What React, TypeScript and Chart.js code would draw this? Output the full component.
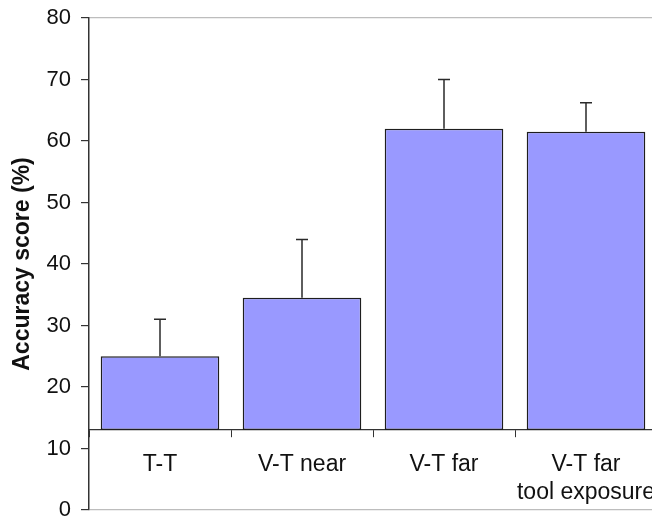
import React, { useEffect, useRef } from "react";
import { Chart, registerables } from "chart.js";

Chart.register(...registerables);

const categories: (string | string[])[] = ["T-T", "V-T near", "V-T far", ["V-T far", "tool exposure"]];
const accuracy = [25, 34.5, 62, 61.5];
const errorUpper = [31, 44, 70, 66.2];
const axisBase = 13;
const yTicks = [0, 10, 20, 30, 40, 50, 60, 70, 80];

const errorBarPlugin = {
  id: "errorBars",
  afterDatasetsDraw(chart: any) {
    const ctx = chart.ctx;
    const meta = chart.getDatasetMeta(0);
    const y = chart.scales.y;
    ctx.save();
    ctx.strokeStyle = "#2a2a2a";
    ctx.lineWidth = 1.5;
    meta.data.forEach((bar: any, i: number) => {
      const x = bar.x;
      const yTop = y.getPixelForValue(errorUpper[i]);
      const yVal = y.getPixelForValue(accuracy[i]);
      ctx.beginPath();
      ctx.moveTo(x, yVal);
      ctx.lineTo(x, yTop);
      ctx.moveTo(x - 6, yTop);
      ctx.lineTo(x + 6, yTop);
      ctx.stroke();
    });
    ctx.restore();
  },
};

export default function App() {
  const ref = useRef<HTMLCanvasElement | null>(null);
  useEffect(() => {
    if (!ref.current) return;
    const chart = new Chart(ref.current, {
      type: "bar",
      data: {
        labels: categories,
        datasets: [
          {
            data: accuracy,
            base: axisBase,
            backgroundColor: "#9999ff",
            borderColor: "#1e1e1e",
            borderWidth: 1.5,
            borderSkipped: false,
            categoryPercentage: 1,
            barPercentage: 0.835,
          } as any,
        ],
      },
      options: {
        animation: false,
        responsive: true,
        maintainAspectRatio: false,
        layout: { padding: { left: 0, right: 0, top: 18, bottom: 10 } },
        plugins: { legend: { display: false }, tooltip: { enabled: false } },
        scales: {
          x: {
            position: { y: axisBase } as any,
            offset: true,
            afterFit: (scale: any) => {
              scale.paddingLeft = 0;
              scale.paddingRight = 0;
              scale.paddingTop = 0;
              scale.paddingBottom = 0;
            },
            grid: {
              offset: true,
              drawOnChartArea: false,
              tickLength: 7,
              color: "#333333",
              tickColor: "#333333",
            },
            border: { color: "#333333", width: 1.2 },
            ticks: {
              color: "#111111",
              font: { family: "'Liberation Sans', Arial, sans-serif", size: 23, lineHeight: 1.2 },
              padding: 14,
              maxRotation: 0,
              autoSkip: false,
            },
          },
          y: {
            min: 0,
            max: 80,
            afterBuildTicks: (scale: any) => {
              scale.ticks = yTicks.map((v) => ({ value: v }));
            },
            afterFit: (scale: any) => {
              scale.width = 89;
              scale.paddingTop = 0;
              scale.paddingBottom = 0;
            },
            grid: {
              color: (c: any) =>
                c.tick && (c.tick.value === 0 || c.tick.value === 80) ? "#bdbdbd" : "rgba(0,0,0,0)",
              tickColor: "#333333",
              tickLength: 8,
              lineWidth: 1.2,
            },
            border: { color: "#333333", width: 1.5 },
            ticks: {
              color: "#111111",
              font: { family: "'Liberation Sans', Arial, sans-serif", size: 22 },
              padding: 10,
            },
            title: {
              display: true,
              text: "Accuracy score (%)",
              color: "#111111",
              font: { family: "'Liberation Sans', Arial, sans-serif", size: 23, weight: "bold" },
              padding: { top: 9, bottom: 0 },
            },
          },
        },
      },
      plugins: [errorBarPlugin],
    });
    return () => chart.destroy();
  }, []);
  return (
    <div style={{ position: "fixed", left: 0, top: 0, width: 652, height: 520, background: "#fff", overflow: "hidden" }}>
      <div style={{ position: "absolute", left: 0, top: 0, width: 657, height: 520 }}>
        <canvas ref={ref} />
      </div>
    </div>
  );
}
